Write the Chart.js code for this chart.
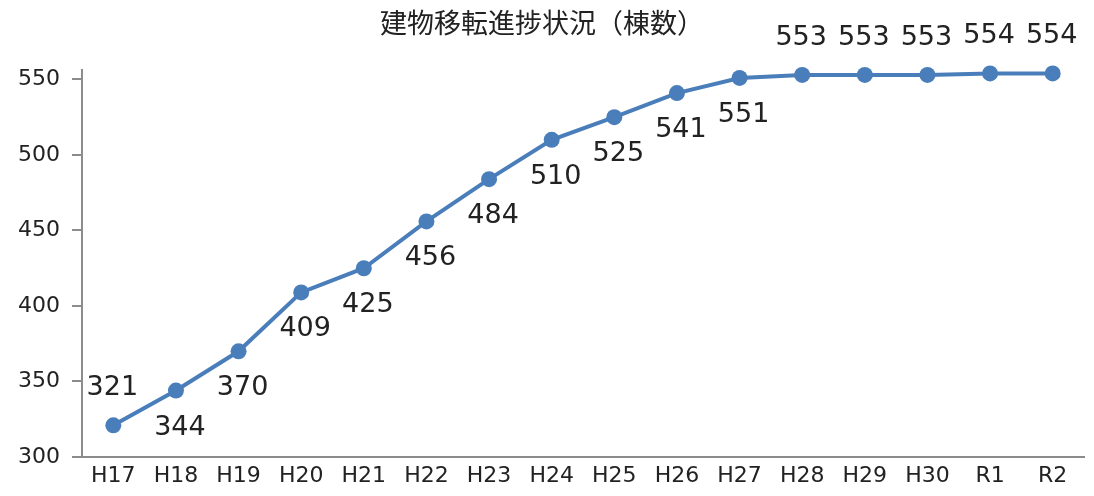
<!DOCTYPE html>
<html>
<head>
<meta charset="utf-8">
<script src="https://cdn.jsdelivr.net/npm/chart.js@4/dist/chart.umd.min.js"></script>
<style>
  body { margin: 0; background: #fff; }
</style>
</head>
<body>
<canvas id="c" width="1094" height="496"></canvas>
<script>
var years = ['H17','H18','H19','H20','H21','H22','H23','H24','H25','H26','H27','H28','H29','H30','R1','R2'];
var buildings = [321, 344, 370, 409, 425, 456, 484, 510, 525, 541, 551, 553, 553, 553, 554, 554];
var yTicks = [300, 350, 400, 450, 500, 550];

var FONT = '"DejaVu Sans", "Noto Sans CJK JP", sans-serif';
var CJK = '"Noto Sans CJK JP", sans-serif';
var blue = '#4a7ebb';

// value labels, first and last five sit above the point, the rest below
var pointLabels = {
  id: 'pointLabels',
  afterDatasetsDraw: function(chart) {
    var ctx = chart.ctx;
    var meta = chart.getDatasetMeta(0);
    ctx.save();
    ctx.font = '27px ' + FONT;
    ctx.fillStyle = '#222';
    ctx.textAlign = 'center';
    ctx.textBaseline = 'middle';
    meta.data.forEach(function(pt, i) {
      var above = (i === 0 || i >= 11);
      var x = above ? pt.x - 1 : pt.x + 4;
      var y = above ? pt.y - 37 : pt.y + 37;
      ctx.fillText(String(buildings[i]), x, y);
    });
    ctx.restore();
  }
};

new Chart(document.getElementById('c').getContext('2d'), {
  type: 'line',
  data: {
    labels: years,
    datasets: [{
      data: buildings,
      borderColor: blue,
      backgroundColor: blue,
      borderWidth: 4,
      pointRadius: 8,
      pointBorderWidth: 0,
      pointBackgroundColor: blue,
      tension: 0,
      clip: false
    }]
  },
  options: {
    responsive: false,
    animation: false,
    layout: { padding: { left: 0, right: 10, top: 0, bottom: 0 } },
    plugins: {
      legend: { display: false },
      tooltip: { enabled: false },
      title: {
        display: true,
        text: '建物移転進捗状況（棟数）',
        color: '#222',
        font: { family: CJK, size: 27, weight: 'normal' },
        padding: { top: 7, bottom: 31 }
      }
    },
    scales: {
      x: {
        offset: true,
        grid: { display: false, drawTicks: false },
        border: { display: true, color: '#8c8c8c', width: 2 },
        ticks: { color: '#222', font: { family: FONT, size: 22 }, padding: 6, maxRotation: 0 },
        afterFit: function(s) { s.height = 39; }
      },
      y: {
        min: 300,
        max: 556,
        afterBuildTicks: function(s) { s.ticks = yTicks.map(function(v) { return { value: v }; }); },
        grid: { drawOnChartArea: false, drawTicks: true, tickLength: 10, color: '#8c8c8c', lineWidth: 2 },
        border: { display: true, color: '#8c8c8c', width: 2 },
        ticks: { color: '#222', font: { family: FONT, size: 22 }, padding: 12 },
        afterFit: function(s) { s.width = 82; }
      }
    }
  },
  plugins: [pointLabels]
});
</script>
</body>
</html>
